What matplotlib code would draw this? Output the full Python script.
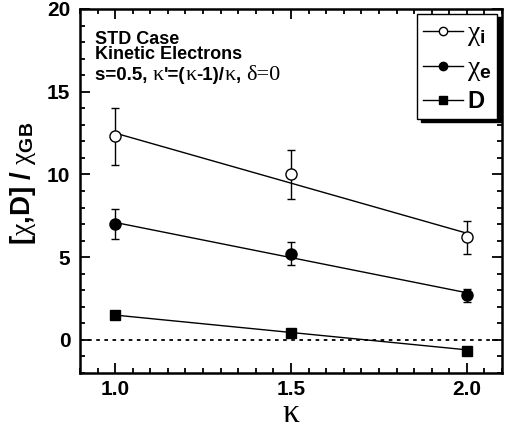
import matplotlib
matplotlib.use('Agg')
import matplotlib.pyplot as plt
import numpy as np
from matplotlib.ticker import MultipleLocator
from matplotlib.offsetbox import TextArea, HPacker, AnchoredOffsetbox

plt.rcParams['font.family'] = ['Liberation Sans', 'DejaVu Sans']
plt.rcParams['mathtext.fontset'] = 'custom'
plt.rcParams['mathtext.rm'] = 'Liberation Serif:weight=normal'
plt.rcParams['mathtext.it'] = 'Liberation Serif:weight=normal'
plt.rcParams['mathtext.bf'] = 'Liberation Sans:bold'

kappa = [1.0, 1.5, 2.0]

chi_i = [12.3, 10.0, 6.2]
chi_i_lo = [10.6, 8.5, 5.2]
chi_i_hi = [14.0, 11.5, 7.2]
chi_i_fit = [12.5, 6.45]

chi_e = [7.0, 5.2, 2.7]
chi_e_lo = [6.1, 4.5, 2.3]
chi_e_hi = [7.9, 5.9, 3.1]
chi_e_fit = [7.1, 2.85]

D = [1.5, 0.4, -0.65]
D_lo = [1.3, 0.3, -0.75]
D_hi = [1.75, 0.5, -0.55]
D_fit = [1.5, -0.6]

fit_x = [1.0, 2.0]

fig = plt.figure(figsize=(5.15, 4.32), dpi=100)
ax = fig.add_axes([80/515, 59/432, 422/515, 364/432])

def errs(y, lo, hi):
    y = np.array(y)
    return [y - np.array(lo), np.array(hi) - y]

ax.errorbar(kappa, chi_i, yerr=errs(chi_i, chi_i_lo, chi_i_hi), fmt='o', mfc='white', mec='black',
            ms=8, color='black', ecolor='black', elinewidth=1, capsize=3, zorder=3)
ax.errorbar(kappa, chi_e, yerr=errs(chi_e, chi_e_lo, chi_e_hi), fmt='o', mfc='black', mec='black',
            ms=8, color='black', ecolor='black', elinewidth=1, capsize=3, zorder=3)
ax.errorbar(kappa, D, yerr=errs(D, D_lo, D_hi), fmt='s', mfc='black', mec='black',
            ms=7, color='black', ecolor='black', elinewidth=1, capsize=3, zorder=3)
ax.plot(fit_x, chi_i_fit, color='black', lw=1)
ax.plot(fit_x, chi_e_fit, color='black', lw=1)
ax.plot(fit_x, D_fit, color='black', lw=1)
ax.axhline(0, color='black', lw=1.3, ls=(0, (2, 2.5)))

# legend proxies
l1, = ax.plot([], [], '-o', color='black', mfc='white', ms=6, lw=1)
l2, = ax.plot([], [], '-o', color='black', mfc='black', ms=6, lw=1)
l3, = ax.plot([], [], '-s', color='black', mfc='black', ms=5.5, lw=1)
leg = ax.legend([l1, l2, l3], [r'$\chi_{\mathbf{i}}$', r'$\chi_{\mathbf{e}}$', 'D'],
                loc='upper right', prop={'size': 17, 'weight': 'bold'}, frameon=True, fancybox=False,
                shadow={'color': 'black', 'alpha': 1, 'ox': 2.5, 'oy': -2.5},
                handlelength=1.7, handletextpad=0.15, labelspacing=0.3,
                borderaxespad=0.2, borderpad=0.25)
leg.get_texts()[0].set_fontsize(20)
leg.get_texts()[1].set_fontsize(20)
leg.get_frame().set_edgecolor('black')
leg.get_frame().set_linewidth(1)

ax.text(0.035, 0.94, 'STD Case\nKinetic Electrons', transform=ax.transAxes,
        fontsize=13, fontweight='bold', va='top', ha='left', linespacing=0.88)

sans = dict(family='Liberation Sans', fontweight='bold', fontsize=13.5)
serif = dict(family='Liberation Serif', fontweight='normal', fontsize=16)
parts = [('s=0.5, ', sans), ('\u03ba', serif), ("'=(", sans), ('\u03ba', serif),
         ('-1)/', sans), ('\u03ba', serif), (', ', sans), ('\u03b4=0', serif)]
box = HPacker(children=[TextArea(t, textprops=p) for t, p in parts], pad=0, sep=0, align='baseline')
ab = AnchoredOffsetbox(loc='upper left', child=box, bbox_to_anchor=(0.035, 0.843),
                       bbox_transform=ax.transAxes, frameon=False, pad=0, borderpad=0)
ax.add_artist(ab)

ax.set_xlim(0.9, 2.1)
ax.set_ylim(-2, 20)
ax.set_xticks([1.0, 1.5, 2.0])
ax.set_xticklabels(['1.0', '1.5', '2.0'])
ax.set_yticks([0, 5, 10, 15, 20])
ax.xaxis.set_minor_locator(MultipleLocator(0.05))
ax.yaxis.set_minor_locator(MultipleLocator(1))
ax.tick_params(which='both', direction='in', top=True, right=True, labelsize=15, width=1.3)
ax.tick_params(which='major', length=7)
ax.tick_params(axis='x', which='major', pad=5)
ax.tick_params(axis='y', which='major', pad=7)
ax.tick_params(which='minor', length=3.5)
for lab in ax.get_xticklabels() + ax.get_yticklabels():
    lab.set_fontweight('bold')
for s in ax.spines.values():
    s.set_linewidth(1.8)

ax.set_xlabel('\u03ba', fontsize=24, family='Liberation Serif', labelpad=0)
ax.set_ylabel(r'$\mathbf{[}\chi\mathbf{{,}D]\ /\ }\chi_{\mathbf{GB}}$', fontsize=20)
ax.yaxis.set_label_coords(-0.10, 0.52)

fig.savefig('out.png', dpi=100)
